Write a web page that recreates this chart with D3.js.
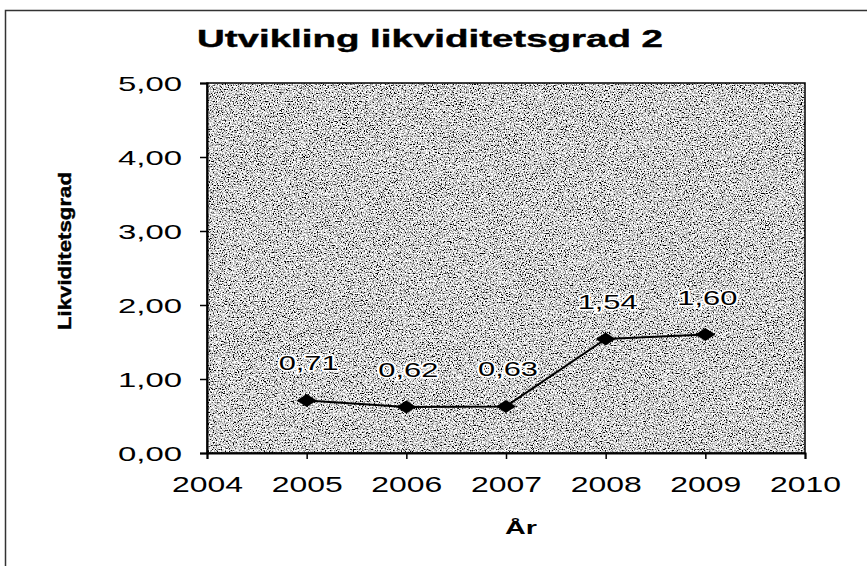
<!DOCTYPE html>
<html>
<head>
<meta charset="utf-8">
<script src="https://cdn.jsdelivr.net/npm/d3@7"></script>
<style>
  html, body { margin: 0; padding: 0; background: #fff; }
  svg { display: block; font-family: "Liberation Sans", Arial, sans-serif; }
</style>
</head>
<body>
<svg id="chart" width="867" height="566"></svg>
<script>
// ---- data ----
const years = [2005, 2006, 2007, 2008, 2009];
const values = [0.71, 0.62, 0.63, 1.54, 1.60];
const xTicks = [2004, 2005, 2006, 2007, 2008, 2009, 2010];
const yTicks = [0, 1, 2, 3, 4, 5];
const titleText = "Utvikling likviditetsgrad 2";
const xTitle = "År";
const yTitle = "Likviditetsgrad";

const fmt = v => d3.format(".2f")(v).replace(".", ",");

const svg = d3.select("#chart");
const plot = { left: 207, right: 805, top: 83, bottom: 453 };

const x = d3.scaleLinear().domain([2004, 2010]).range([plot.left, plot.right]);
const y = d3.scaleLinear().domain([0, 5]).range([plot.bottom, plot.top]);

// texture filter for the plot area
const defs = svg.append("defs");
const f = defs.append("filter").attr("id", "grain")
  .attr("x", 0).attr("y", 0).attr("width", 1).attr("height", 1)
  .attr("filterUnits", "objectBoundingBox");
f.append("feTurbulence").attr("type", "fractalNoise")
  .attr("baseFrequency", "0.75").attr("numOctaves", 3).attr("seed", 7).attr("result", "n");
f.append("feColorMatrix").attr("in", "n").attr("type", "matrix")
  .attr("values", "3.4 0 0 0 -1.05  3.4 0 0 0 -1.05  3.4 0 0 0 -1.05  0 0 0 0 1");

// outer frame
svg.append("rect").attr("x", 5.5).attr("y", 10.5).attr("width", 900).attr("height", 600)
  .attr("fill", "none").attr("stroke", "#333").attr("stroke-width", 1.5);

// plot background
svg.append("rect")
  .attr("x", plot.left).attr("y", plot.top)
  .attr("width", plot.right - plot.left).attr("height", plot.bottom - plot.top)
  .attr("fill", "#999").attr("filter", "url(#grain)");
svg.append("rect")
  .attr("x", plot.left).attr("y", plot.top)
  .attr("width", plot.right - plot.left).attr("height", plot.bottom - plot.top)
  .attr("fill", "none").attr("stroke", "#000").attr("stroke-width", 1.5);

// y axis
const yAxis = svg.append("g").attr("transform", `translate(${plot.left},0)`)
  .call(d3.axisLeft(y).tickValues(yTicks).tickFormat(fmt).tickSize(7).tickPadding(18));
yAxis.select(".domain").attr("stroke", "#000").attr("stroke-width", 2);
yAxis.selectAll(".tick line").attr("stroke", "#000").attr("stroke-width", 1.5);
yAxis.selectAll(".tick text")
  .attr("font-size", 21).attr("fill", "#000")
  .attr("dy", null).attr("y", 7)
  .attr("textLength", 64).attr("lengthAdjust", "spacingAndGlyphs");

// x axis
const xAxis = svg.append("g").attr("transform", `translate(0,${plot.bottom})`)
  .call(d3.axisBottom(x).tickValues(xTicks).tickFormat(d3.format("d")).tickSize(6));
xAxis.select(".domain").attr("stroke", "#000").attr("stroke-width", 2);
xAxis.selectAll(".tick line").attr("stroke", "#000").attr("stroke-width", 1.5);
xAxis.selectAll(".tick text")
  .attr("font-size", 22).attr("fill", "#000")
  .attr("dy", null).attr("y", 39)
  .attr("textLength", 71).attr("lengthAdjust", "spacingAndGlyphs");

// line
const line = d3.line().x((d, i) => x(years[i])).y(d => y(d));
svg.append("path").datum(values)
  .attr("d", line).attr("fill", "none").attr("stroke", "#000").attr("stroke-width", 2);

// markers
svg.append("g").selectAll("path").data(values).join("path")
  .attr("transform", (d, i) => `translate(${x(years[i])},${y(d)})`)
  .attr("d", "M-10,0L0,-6.5L10,0L0,6.5Z")
  .attr("fill", "#000");

// data labels
svg.append("g").selectAll("text").data(values).join("text")
  .attr("x", (d, i) => x(years[i]) + 2)
  .attr("y", d => y(d) - 30)
  .attr("text-anchor", "middle")
  .attr("font-size", 21)
  .attr("fill", "#000")
  .attr("stroke", "#fff").attr("stroke-width", 3).attr("paint-order", "stroke")
  .attr("textLength", 60).attr("lengthAdjust", "spacingAndGlyphs")
  .text(fmt);

// title
svg.append("text")
  .attr("x", 430).attr("y", 47)
  .attr("text-anchor", "middle")
  .attr("font-size", 24).attr("font-weight", "bold").attr("fill", "#000")
  .attr("stroke", "#000").attr("stroke-width", 0.4)
  .attr("textLength", 466).attr("lengthAdjust", "spacingAndGlyphs")
  .text(titleText);

// x title
svg.append("text")
  .attr("x", 521).attr("y", 534)
  .attr("text-anchor", "middle")
  .attr("font-size", 19).attr("font-weight", "bold").attr("fill", "#000")
  .attr("textLength", 32).attr("lengthAdjust", "spacingAndGlyphs")
  .text(xTitle);

// y title
svg.append("text")
  .attr("transform", "translate(71,251) rotate(-90)")
  .attr("text-anchor", "middle")
  .attr("font-size", 19).attr("font-weight", "bold").attr("fill", "#000")
  .attr("stroke", "#000").attr("stroke-width", 0.4)
  .attr("textLength", 158).attr("lengthAdjust", "spacingAndGlyphs")
  .text(yTitle);
</script>
</body>
</html>
